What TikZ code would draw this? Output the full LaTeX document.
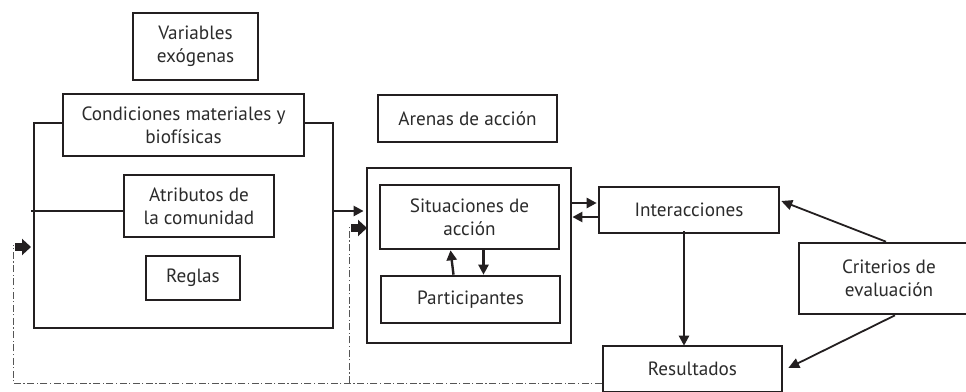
\documentclass[tikz,border=0pt]{standalone}
\usepackage{fontspec}
\setmainfont{PT Sans}
\usetikzlibrary{arrows.meta,calc}
\definecolor{ink}{HTML}{231F20}
\definecolor{txt}{HTML}{2B2B2B}
\definecolor{dd}{HTML}{555555}
\begin{document}
\begin{tikzpicture}[x=1pt,y=-1pt,
  every node/.style={font=\fontsize{19.2}{23}\selectfont, text=txt},
  box/.style={draw=ink, line width=2.6pt, fill=white, inner sep=0pt, align=center},
  conn/.style={draw=ink, line width=2.4pt},
  arr/.style={conn, -{Triangle[length=10pt,width=10pt]}},
  thinarr/.style={draw=ink, line width=1.8pt, -{Triangle[length=11pt,width=10pt]}},
  fat/.style={draw=ink, line width=8pt, -{Triangle[length=9pt,width=16pt]}},
  dashdot/.style={draw=dd, line width=1pt, dash pattern=on 7pt off 2.5pt on 1.2pt off 2.5pt}]
\useasboundingbox (0,0) rectangle (966,391);
\clip (0,0) rectangle (966,391);
% left group
\node[box, minimum width=125pt, minimum height=67pt] (vars) at (195.5,46.5) {Variables\\exógenas};
\node[draw=ink, line width=2.6pt, inner sep=0pt, minimum width=299pt, minimum height=205pt] (big) at (183.5,225.5) {};
\node[box, minimum width=241pt, minimum height=62pt] (cond) at (183.5,125) {Condiciones materiales y\\biofísicas};
\node[box, minimum width=150pt, minimum height=62pt] (atrib) at (199,206) {Atributos de\\la comunidad};
\node[box, minimum width=94pt, minimum height=44pt] (reglas) at (193,278) {Reglas};
\coordinate (atrL) at (31,211);
\draw[conn] (atrL) -- (atrib.west |- atrL);
% middle group
\node[box, minimum width=179pt, minimum height=47pt] (arenas) at (467.5,118.5) {Arenas de acción};
\node[draw=ink, line width=2.8pt, inner sep=0pt, minimum width=204pt, minimum height=175pt] (outer) at (469,255.5) {};
\node[box, minimum width=179pt, minimum height=64pt] (sit) at (469.5,217) {Situaciones de\\acción};
\node[box, minimum width=179pt, minimum height=47pt] (part) at (470.5,299.5) {Participantes};
\draw[arr] ([xshift=-17pt]part.north) -- ([xshift=-19pt]sit.south);
\draw[arr] ([xshift=14pt]sit.south) -- ([xshift=13pt]part.north);
\draw[arr] (big.east |- atrL) -- ([xshift=-2pt]outer.west |- atrL);
% right group
\node[box, minimum width=180pt, minimum height=46pt] (inter) at (689,210) {Interacciones};
\node[box, minimum width=180pt, minimum height=71pt] (crit) at (889,278.5) {Criterios de\\evaluación};
\node[box, minimum width=179pt, minimum height=46pt] (res) at (692.5,369) {Resultados};
\draw[arr] (outer.east |- 0,203) -- ([xshift=-1pt]inter.west |- 0,203);
\draw[arr] (inter.west |- 0,217) -- (outer.east |- 0,217);
\draw[arr] ([yshift=3pt]inter.south -| 684,0) -- ([yshift=-1pt]res.north -| 684,0);
\draw[thinarr] (crit.north -| 886,0) -- ([xshift=1pt]inter.east |- 0,201);
\draw[thinarr] (crit.south -| 895,0) -- ([xshift=5pt]res.east |- 0,368);
% feedback
\coordinate (fbA) at (13,245);
\coordinate (fbB) at (349,225);
\draw[dashdot] (res.west |- 0,383) -- (fbA |- 0,383) -- (fbA);
\draw[dashdot] (fbB |- 0,383) -- (fbB);
\coordinate (fatA) at (15,247);
\coordinate (fatB) at (351,228);
\draw[fat] (fatA) -- ([xshift=16pt]fatA);
\draw[fat] (fatB) -- ([xshift=16pt]fatB);
\end{tikzpicture}
\end{document}
